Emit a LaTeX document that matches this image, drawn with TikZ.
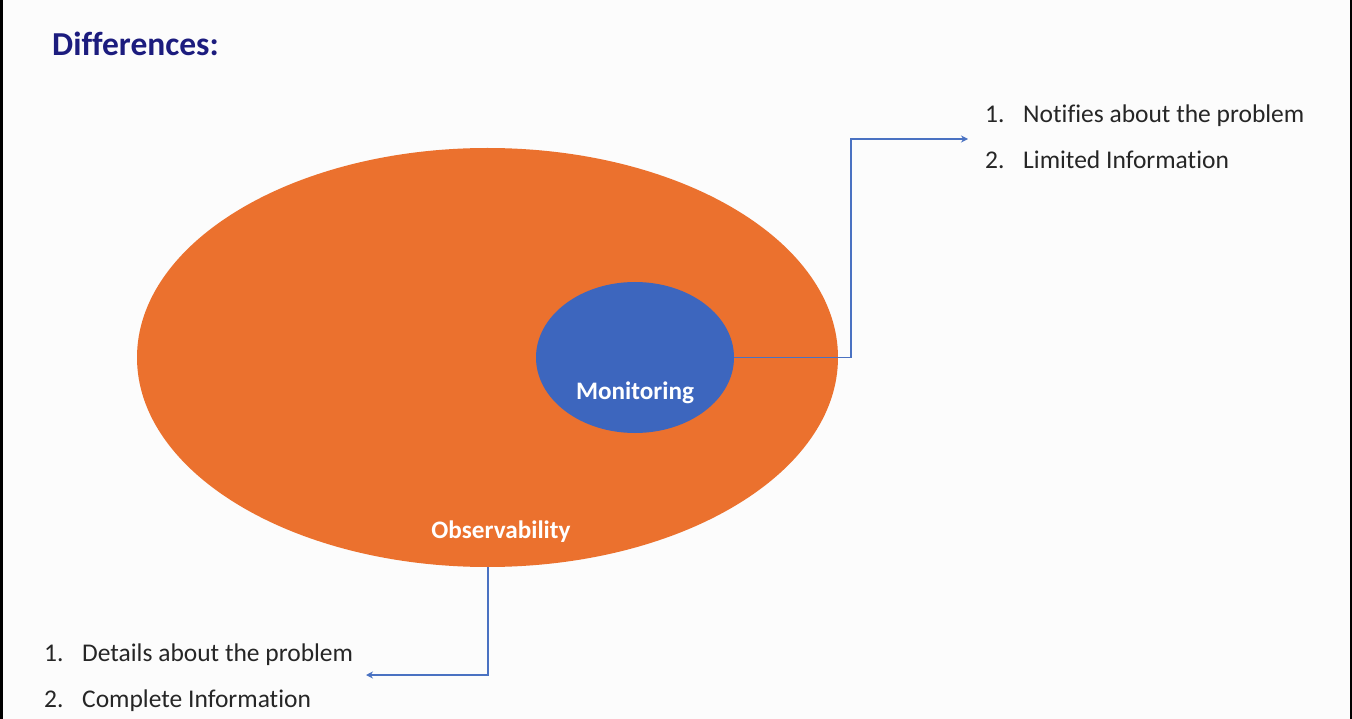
\documentclass[tikz,border=0pt]{standalone}
\usepackage{fontspec}
\setmainfont[Ligatures={NoCommon}]{Carlito}
\usetikzlibrary{positioning}
\usetikzlibrary{arrows.meta}
\usepackage{xcolor}
\definecolor{slideorange}{HTML}{EB712E}
\definecolor{slideblue}{HTML}{3D66BE}
\definecolor{linkblue}{HTML}{4A72C2}
\definecolor{titlenavy}{HTML}{1C1C7E}

\tikzset{
  listnum/.style={anchor=base west, inner sep=0pt, font=\fontsize{25.5}{29}\selectfont, text=black!85},
  listtxt/.style={anchor=base west, inner sep=0pt, font=\fontsize{25.5}{29}\selectfont, text=black!85},
  inlabel/.style={inner sep=0pt, anchor=base, text=white, font=\bfseries\fontsize{25.2}{29}\selectfont},
  link/.style={linkblue, line width=1.6pt, -{Stealth[length=7pt,width=7pt]}}
}

\begin{document}
\begin{tikzpicture}[x=1pt,y=-1pt]

\useasboundingbox (0,0) rectangle (1352,719);
\fill[white!99!black] (0,0) rectangle (1352,719);
\fill[black] (0,0) rectangle (3,719);
\fill[black] (1350,0) rectangle (1352,719);

%title
\node[anchor=base west, inner sep=0pt, text=titlenavy, font=\bfseries\fontsize{33.5}{38}\selectfont] (title) at (52,56) {Differences:};

%ellipses
\fill[slideorange] (487.5,357.5) ellipse [x radius=350.5, y radius=209.5];
\fill[slideblue] (635,357.5) ellipse [x radius=99, y radius=75.5];
\coordinate (monright) at (734,357.5);
\coordinate (obsbottom) at (488,567);

\node[inlabel] (mon) at (635,399) {Monitoring};
\node[inlabel] (obs) at (501,538) {Observability};

%right list
\node[listnum] (n1) at (985,122.5) {1.};
\node[listtxt] (t1) at (1023,122.5) {Notifies about the problem};
\node[listnum] (n2) at (985,168.5) {2.};
\node[listtxt] (t2) at (1023,168.5) {Limited Information};
\coordinate (monend) at (968,139);

%left list
\node[listnum] (d1) at (44,661.5) {1.};
\node[listtxt] (e1) at (82,661.5) {Details about the problem};
\node[listnum] (d2) at (44,707.5) {2.};
\node[listtxt] (e2) at (82,707.5) {Complete Information};
\coordinate (obsend) at (366,675);

%connectors
\draw[link] (monright) -- (851,357.5) |- (monend);
\draw[link] (obsbottom) |- (obsend);

\end{tikzpicture}
\end{document}
